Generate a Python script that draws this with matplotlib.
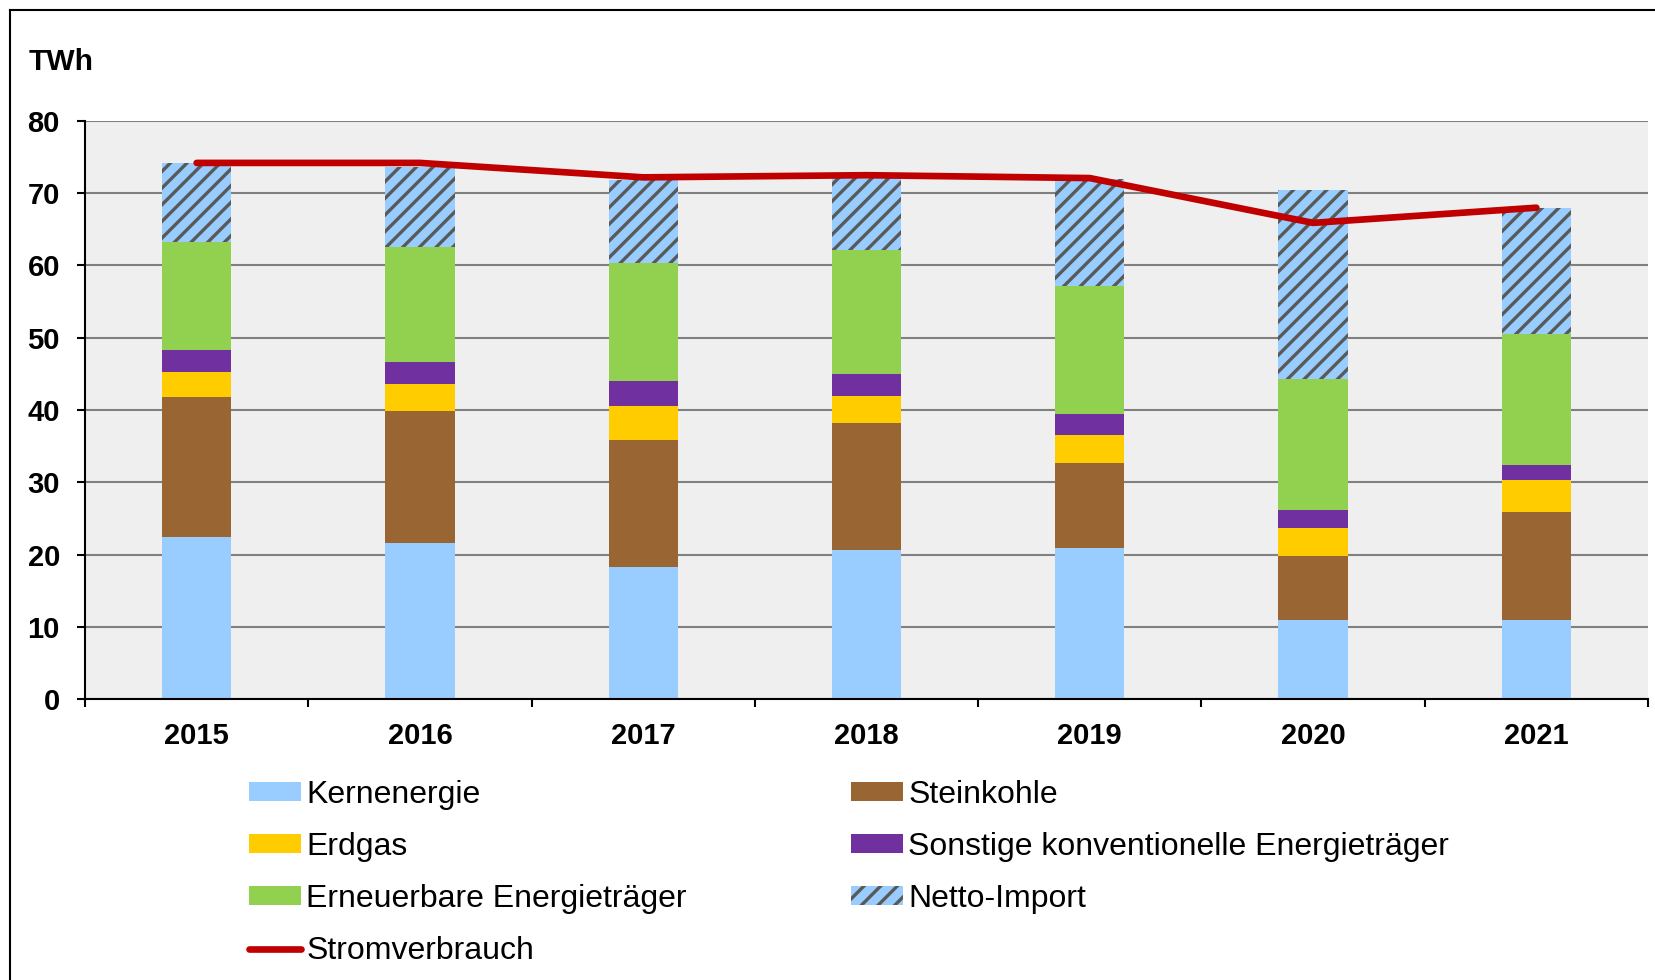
import numpy as np
import matplotlib
matplotlib.use("Agg")
from matplotlib import pyplot as plt
from matplotlib.patches import Patch
from matplotlib.lines import Line2D

plt.rcParams['font.family'] = ['Liberation Sans', 'DejaVu Sans']
plt.rcParams['hatch.linewidth'] = 2.4

# data (TWh)
years = ['2015', '2016', '2017', '2018', '2019', '2020', '2021']
kernenergie = [22.4, 21.6, 18.3, 20.6, 20.9, 11.0, 11.0]
steinkohle = [19.4, 18.3, 17.6, 17.6, 11.7, 8.8, 14.9]
erdgas = [3.5, 3.7, 4.7, 3.8, 4.0, 3.9, 4.4]
sonstige = [3.0, 3.1, 3.4, 3.0, 2.8, 2.5, 2.1]
erneuerbare = [14.9, 15.9, 16.3, 17.1, 17.7, 18.1, 18.1]
netto_import = [11.0, 11.1, 11.6, 10.0, 14.9, 26.2, 17.4]
stromverbrauch = [74.2, 74.2, 72.2, 72.5, 72.1, 65.9, 68.0]

series = [
    ('Kernenergie', kernenergie, '#99CCFF'),
    ('Steinkohle', steinkohle, '#996633'),
    ('Erdgas', erdgas, '#FFCC00'),
    ('Sonstige konventionelle Energieträger', sonstige, '#7030A0'),
    ('Erneuerbare Energieträger', erneuerbare, '#92D050'),
]

fig = plt.figure(figsize=(16.56, 9.8), dpi=100)
ax = fig.add_axes([85 / 1656, 1 - 699 / 980, 1563 / 1656, 578 / 980])
ax.set_facecolor('#EFEFEF')

x = np.arange(len(years))
width = 0.31
bottom = np.zeros(len(years))
for name, vals, col in series:
    ax.bar(x, vals, width, bottom=bottom, color=col, linewidth=0, zorder=2)
    bottom += np.array(vals)
ax.bar(x, netto_import, width, bottom=bottom, color='#99CCFF', edgecolor='#595959',
       hatch='//', linewidth=0, zorder=2)

ax.plot(x, stromverbrauch, color='#C00000', lw=4.8, solid_capstyle='round',
        solid_joinstyle='round', zorder=3)

ax.set_xlim(-0.5, len(years) - 0.5)
ax.set_ylim(0, 80)
ax.set_yticks(range(0, 81, 10))
ax.yaxis.grid(True, color='#808080', lw=1.5, zorder=1)
ax.set_axisbelow(True)
for s in ['top', 'right']:
    ax.spines[s].set_visible(False)
for s in ['left', 'bottom']:
    ax.spines[s].set_color('black')
    ax.spines[s].set_linewidth(1.5)

ax.set_xticks(np.arange(-0.5, len(years)), labels=[])
ax.set_xticks(x, labels=years, minor=True)
ax.tick_params(axis='x', which='major', length=6, width=1.5, direction='out')
ax.tick_params(axis='x', which='minor', length=0, pad=16.5, labelsize=21)
ax.tick_params(axis='y', length=6, width=1.5, pad=12, labelsize=21)
for lab in ax.get_xticklabels(minor=True) + ax.get_yticklabels():
    lab.set_fontweight('bold')

fig.text(29 / 1656, 1 - 70 / 980, 'TWh', fontsize=21.5, fontweight='bold', va='baseline')

# legend, two columns drawn separately
def patch(c, **kw):
    return Patch(facecolor=c, linewidth=0, **kw)

col1 = [patch('#99CCFF'), patch('#FFCC00'), patch('#92D050'),
        Line2D([], [], color='#C00000', lw=4.8, solid_capstyle='round')]
lab1 = ['Kernenergie', 'Erdgas', 'Erneuerbare Energieträger', 'Stromverbrauch']
col2 = [patch('#996633'), patch('#7030A0'),
        Patch(facecolor='#99CCFF', edgecolor='#595959', hatch='//', linewidth=0)]
lab2 = ['Steinkohle', 'Sonstige konventionelle Energieträger', 'Netto-Import']

kw = dict(frameon=False, fontsize=23, handlelength=1.63, handleheight=0.53,
          handletextpad=0.16, labelspacing=0.69, borderaxespad=0, borderpad=0,
          loc='upper left')
fig.legend(col1, lab1, bbox_to_anchor=(249 / 1656, 1 - 780 / 980), **kw)
fig.legend(col2, lab2, bbox_to_anchor=(851 / 1656, 1 - 780 / 980), **kw)

# outer frame (left and top edges)
fig.add_artist(Line2D([10 / 1656, 10 / 1656], [0, 1 - 10 / 980], color='black', lw=1.5,
                      transform=fig.transFigure))
fig.add_artist(Line2D([10 / 1656, 1], [1 - 10 / 980, 1 - 10 / 980], color='black', lw=1.5,
                      transform=fig.transFigure))

fig.savefig('out.png', dpi=100)
